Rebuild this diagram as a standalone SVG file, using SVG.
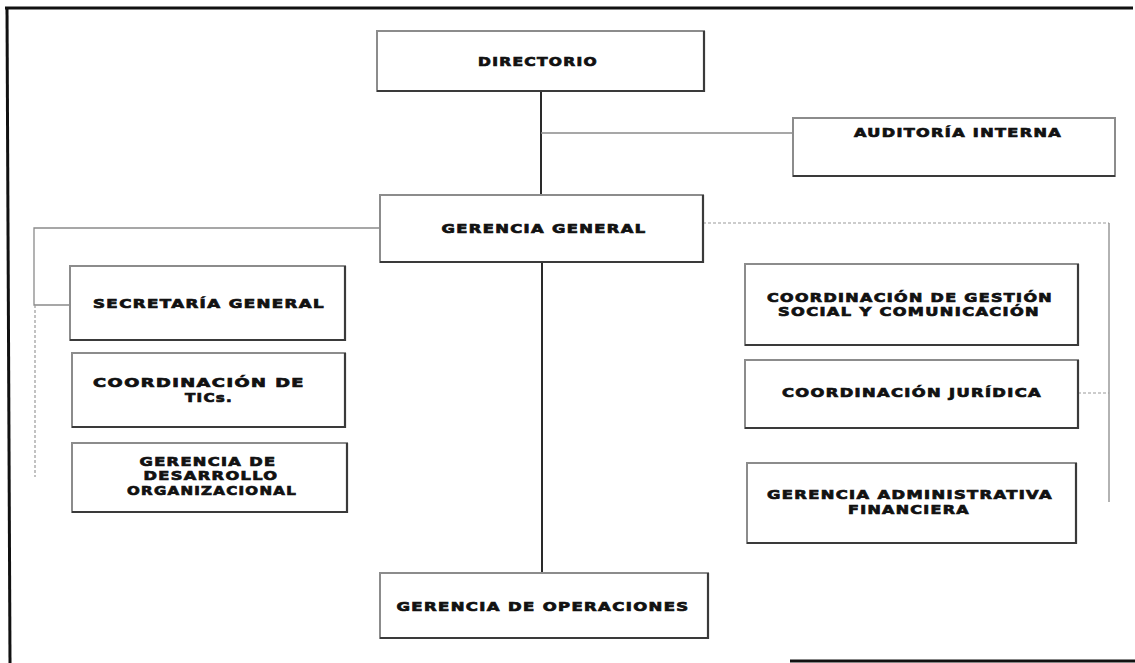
<svg xmlns="http://www.w3.org/2000/svg" width="1135" height="663" viewBox="0 0 1135 663">
<style>
.box{fill:#fff;stroke:#8c8c8c;stroke-width:2}
.sh{stroke:#3a3a3a;stroke-width:2.2;fill:none}
.t{font-family:"DejaVu Sans","Liberation Sans",sans-serif;font-weight:bold;font-size:11.8px;letter-spacing:1px;fill:#111;stroke:#111;stroke-width:0.7;text-anchor:middle;dominant-baseline:central}
.solid{stroke:#2a2a2a;stroke-width:2;fill:none}
.thin{stroke:#8a8a8a;stroke-width:1.3;fill:none}
.dot{stroke:#9a9a9a;stroke-width:1.2;stroke-dasharray:3 2;fill:none}
.frame{stroke:#111;stroke-width:3;fill:none}
</style>
<rect width="1135" height="663" fill="#fff"/>
<g id="frame">
<path class="frame" d="M5 8 H1133"/>
<path class="frame" d="M7 8 L10 663"/>
<path class="frame" d="M790 661 H1135"/>
</g>
<g id="connectors">
<path class="solid" d="M541 91 V195"/>
<path class="solid" d="M542 262 V573"/>
<path class="thin" d="M541 133 H793"/>
<path class="thin" d="M380 228 H34 V305 H70"/>
<path class="dot" d="M35 305 V477"/>
<path class="dot" d="M703 223 H1109"/>
<path class="thin" d="M1109 223 V502"/>
<path class="dot" d="M1078 393 H1109"/>
</g>
<g id="directorio">
<rect class="box" x="377" y="31" width="327" height="60"/>
<path class="sh" d="M704 31 V91 H377"/>
<text class="t" x="538" y="62" textLength="120" lengthAdjust="spacingAndGlyphs">DIRECTORIO</text>
</g>
<g id="auditoria">
<rect class="box" x="793" y="118" width="322" height="58"/>
<path class="sh" d="M793 176 H1115"/>
<text class="t" x="958" y="133" textLength="208" lengthAdjust="spacingAndGlyphs">AUDITORÍA INTERNA</text>
</g>
<g id="gerencia-general">
<rect class="box" x="380" y="195" width="323" height="67"/>
<path class="sh" d="M703 195 V262 H380"/>
<text class="t" x="544" y="229" textLength="205" lengthAdjust="spacingAndGlyphs">GERENCIA GENERAL</text>
</g>
<g id="secretaria">
<rect class="box" x="70" y="266" width="275" height="74"/>
<path class="sh" d="M345 266 V340 H70"/>
<text class="t" x="209" y="304" textLength="232" lengthAdjust="spacingAndGlyphs">SECRETARÍA GENERAL</text>
</g>
<g id="tics">
<rect class="box" x="72" y="353" width="273" height="74"/>
<path class="sh" d="M345 353 V427 H72"/>
<text class="t" x="199" y="383" textLength="212" lengthAdjust="spacingAndGlyphs">COORDINACIÓN DE</text>
<text class="t" x="209" y="398" textLength="48" lengthAdjust="spacingAndGlyphs">TICs.</text>
</g>
<g id="desarrollo">
<rect class="box" x="72" y="443" width="275" height="69"/>
<path class="sh" d="M347 443 V512 H72"/>
<text class="t" x="208" y="462" textLength="137" lengthAdjust="spacingAndGlyphs">GERENCIA DE</text>
<text class="t" x="211" y="476" textLength="135" lengthAdjust="spacingAndGlyphs">DESARROLLO</text>
<text class="t" x="212" y="491" textLength="170" lengthAdjust="spacingAndGlyphs">ORGANIZACIONAL</text>
</g>
<g id="gestion-social">
<rect class="box" x="745" y="264" width="333" height="81"/>
<path class="sh" d="M1078 264 V345 H745"/>
<text class="t" x="910" y="298" textLength="286" lengthAdjust="spacingAndGlyphs">COORDINACIÓN DE GESTIÓN</text>
<text class="t" x="909" y="312" textLength="262" lengthAdjust="spacingAndGlyphs">SOCIAL Y COMUNICACIÓN</text>
</g>
<g id="juridica">
<rect class="box" x="745" y="360" width="333" height="68"/>
<path class="sh" d="M1078 360 V428 H745"/>
<text class="t" x="912" y="393" textLength="260" lengthAdjust="spacingAndGlyphs">COORDINACIÓN JURÍDICA</text>
</g>
<g id="administrativa">
<rect class="box" x="747" y="463" width="329" height="80"/>
<path class="sh" d="M1076 463 V543 H747"/>
<text class="t" x="910" y="495" textLength="286" lengthAdjust="spacingAndGlyphs">GERENCIA ADMINISTRATIVA</text>
<text class="t" x="909" y="510" textLength="122" lengthAdjust="spacingAndGlyphs">FINANCIERA</text>
</g>
<g id="operaciones">
<rect class="box" x="380" y="573" width="328" height="65"/>
<path class="sh" d="M708 573 V638 H380"/>
<text class="t" x="543" y="607" textLength="293" lengthAdjust="spacingAndGlyphs">GERENCIA DE OPERACIONES</text>
</g>
</svg>
